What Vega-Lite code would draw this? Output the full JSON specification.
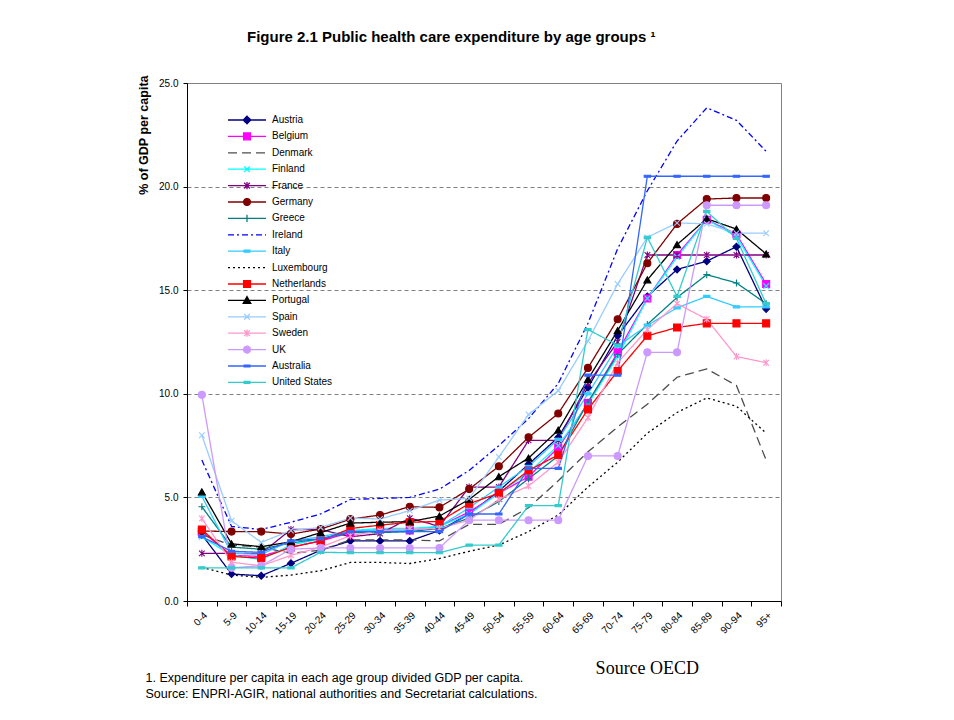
{
"$schema": "https://vega.github.io/schema/vega-lite/v6.json",
"width": 594, "height": 518,
"autosize": {"type": "none"},
"padding": {"left": 187, "top": 83, "right": 173, "bottom": 119},
"background": "white",
"title": {"text": "Figure 2.1 Public health care expenditure by age groups ¹", "anchor": "start", "frame": "group", "dx": 60, "offset": 30, "font": "Liberation Sans", "fontSize": 15, "fontWeight": "bold", "color": "black"},
"config": {"view": {"stroke": "#808080", "strokeWidth": 1}},
"data": {"values": [
{"country":"Austria","age":"0-4","value":3.2},{"country":"Austria","age":"5-9","value":1.3},{"country":"Austria","age":"10-14","value":1.22},{"country":"Austria","age":"15-19","value":1.82},{"country":"Austria","age":"20-24","value":2.45},{"country":"Austria","age":"25-29","value":2.9},{"country":"Austria","age":"30-34","value":2.9},{"country":"Austria","age":"35-39","value":2.9},{"country":"Austria","age":"40-44","value":3.4},{"country":"Austria","age":"45-49","value":4.2},{"country":"Austria","age":"50-54","value":5.3},{"country":"Austria","age":"55-59","value":6.6},{"country":"Austria","age":"60-64","value":7.9},{"country":"Austria","age":"65-69","value":10.3},{"country":"Austria","age":"70-74","value":12.8},{"country":"Austria","age":"75-79","value":14.7},{"country":"Austria","age":"80-84","value":16.0},{"country":"Austria","age":"85-89","value":16.4},{"country":"Austria","age":"90-94","value":17.1},{"country":"Austria","age":"95+","value":14.1},
{"country":"Belgium","age":"0-4","value":3.35},{"country":"Belgium","age":"5-9","value":2.2},{"country":"Belgium","age":"10-14","value":2.15},{"country":"Belgium","age":"15-19","value":2.6},{"country":"Belgium","age":"20-24","value":2.9},{"country":"Belgium","age":"25-29","value":3.3},{"country":"Belgium","age":"30-34","value":3.45},{"country":"Belgium","age":"35-39","value":3.4},{"country":"Belgium","age":"40-44","value":3.6},{"country":"Belgium","age":"45-49","value":4.3},{"country":"Belgium","age":"50-54","value":5.2},{"country":"Belgium","age":"55-59","value":6.0},{"country":"Belgium","age":"60-64","value":7.4},{"country":"Belgium","age":"65-69","value":9.55},{"country":"Belgium","age":"70-74","value":12.0},{"country":"Belgium","age":"75-79","value":14.6},{"country":"Belgium","age":"80-84","value":16.7},{"country":"Belgium","age":"85-89","value":18.4},{"country":"Belgium","age":"90-94","value":17.7},{"country":"Belgium","age":"95+","value":15.3},
{"country":"Denmark","age":"0-4","value":3.2},{"country":"Denmark","age":"5-9","value":2.7},{"country":"Denmark","age":"10-14","value":2.6},{"country":"Denmark","age":"15-19","value":2.3},{"country":"Denmark","age":"20-24","value":2.45},{"country":"Denmark","age":"25-29","value":2.95},{"country":"Denmark","age":"30-34","value":2.95},{"country":"Denmark","age":"35-39","value":2.95},{"country":"Denmark","age":"40-44","value":2.9},{"country":"Denmark","age":"45-49","value":3.7},{"country":"Denmark","age":"50-54","value":3.7},{"country":"Denmark","age":"55-59","value":4.5},{"country":"Denmark","age":"60-64","value":5.8},{"country":"Denmark","age":"65-69","value":7.2},{"country":"Denmark","age":"70-74","value":8.4},{"country":"Denmark","age":"75-79","value":9.5},{"country":"Denmark","age":"80-84","value":10.8},{"country":"Denmark","age":"85-89","value":11.2},{"country":"Denmark","age":"90-94","value":10.4},{"country":"Denmark","age":"95+","value":6.8},
{"country":"Finland","age":"0-4","value":3.1},{"country":"Finland","age":"5-9","value":2.2},{"country":"Finland","age":"10-14","value":2.0},{"country":"Finland","age":"15-19","value":2.7},{"country":"Finland","age":"20-24","value":3.0},{"country":"Finland","age":"25-29","value":3.4},{"country":"Finland","age":"30-34","value":3.5},{"country":"Finland","age":"35-39","value":3.5},{"country":"Finland","age":"40-44","value":3.6},{"country":"Finland","age":"45-49","value":4.2},{"country":"Finland","age":"50-54","value":5.2},{"country":"Finland","age":"55-59","value":6.2},{"country":"Finland","age":"60-64","value":7.5},{"country":"Finland","age":"65-69","value":9.5},{"country":"Finland","age":"70-74","value":11.8},{"country":"Finland","age":"75-79","value":14.6},{"country":"Finland","age":"80-84","value":16.6},{"country":"Finland","age":"85-89","value":18.4},{"country":"Finland","age":"90-94","value":17.6},{"country":"Finland","age":"95+","value":15.2},
{"country":"France","age":"0-4","value":2.3},{"country":"France","age":"5-9","value":2.3},{"country":"France","age":"10-14","value":2.3},{"country":"France","age":"15-19","value":3.45},{"country":"France","age":"20-24","value":3.45},{"country":"France","age":"25-29","value":3.1},{"country":"France","age":"30-34","value":3.25},{"country":"France","age":"35-39","value":4.0},{"country":"France","age":"40-44","value":3.6},{"country":"France","age":"45-49","value":5.5},{"country":"France","age":"50-54","value":5.5},{"country":"France","age":"55-59","value":7.75},{"country":"France","age":"60-64","value":7.75},{"country":"France","age":"65-69","value":10.5},{"country":"France","age":"70-74","value":12.5},{"country":"France","age":"75-79","value":16.7},{"country":"France","age":"80-84","value":16.7},{"country":"France","age":"85-89","value":16.7},{"country":"France","age":"90-94","value":16.7},{"country":"France","age":"95+","value":16.7},
{"country":"Germany","age":"0-4","value":3.38},{"country":"Germany","age":"5-9","value":3.35},{"country":"Germany","age":"10-14","value":3.35},{"country":"Germany","age":"15-19","value":3.23},{"country":"Germany","age":"20-24","value":3.47},{"country":"Germany","age":"25-29","value":3.95},{"country":"Germany","age":"30-34","value":4.15},{"country":"Germany","age":"35-39","value":4.55},{"country":"Germany","age":"40-44","value":4.52},{"country":"Germany","age":"45-49","value":5.4},{"country":"Germany","age":"50-54","value":6.5},{"country":"Germany","age":"55-59","value":7.9},{"country":"Germany","age":"60-64","value":9.05},{"country":"Germany","age":"65-69","value":11.25},{"country":"Germany","age":"70-74","value":13.6},{"country":"Germany","age":"75-79","value":16.3},{"country":"Germany","age":"80-84","value":18.2},{"country":"Germany","age":"85-89","value":19.4},{"country":"Germany","age":"90-94","value":19.45},{"country":"Germany","age":"95+","value":19.45},
{"country":"Greece","age":"0-4","value":4.55},{"country":"Greece","age":"5-9","value":2.6},{"country":"Greece","age":"10-14","value":2.5},{"country":"Greece","age":"15-19","value":2.8},{"country":"Greece","age":"20-24","value":3.0},{"country":"Greece","age":"25-29","value":3.3},{"country":"Greece","age":"30-34","value":3.3},{"country":"Greece","age":"35-39","value":3.35},{"country":"Greece","age":"40-44","value":3.5},{"country":"Greece","age":"45-49","value":4.0},{"country":"Greece","age":"50-54","value":4.8},{"country":"Greece","age":"55-59","value":5.9},{"country":"Greece","age":"60-64","value":7.0},{"country":"Greece","age":"65-69","value":9.6},{"country":"Greece","age":"70-74","value":11.9},{"country":"Greece","age":"75-79","value":13.35},{"country":"Greece","age":"80-84","value":14.65},{"country":"Greece","age":"85-89","value":15.75},{"country":"Greece","age":"90-94","value":15.35},{"country":"Greece","age":"95+","value":14.35},
{"country":"Ireland","age":"0-4","value":6.8},{"country":"Ireland","age":"5-9","value":3.6},{"country":"Ireland","age":"10-14","value":3.45},{"country":"Ireland","age":"15-19","value":3.8},{"country":"Ireland","age":"20-24","value":4.2},{"country":"Ireland","age":"25-29","value":4.9},{"country":"Ireland","age":"30-34","value":4.95},{"country":"Ireland","age":"35-39","value":5.0},{"country":"Ireland","age":"40-44","value":5.4},{"country":"Ireland","age":"45-49","value":6.3},{"country":"Ireland","age":"50-54","value":7.5},{"country":"Ireland","age":"55-59","value":8.8},{"country":"Ireland","age":"60-64","value":10.5},{"country":"Ireland","age":"65-69","value":13.4},{"country":"Ireland","age":"70-74","value":17.0},{"country":"Ireland","age":"75-79","value":19.8},{"country":"Ireland","age":"80-84","value":22.2},{"country":"Ireland","age":"85-89","value":23.8},{"country":"Ireland","age":"90-94","value":23.2},{"country":"Ireland","age":"95+","value":21.7},
{"country":"Italy","age":"0-4","value":5.05},{"country":"Italy","age":"5-9","value":2.3},{"country":"Italy","age":"10-14","value":2.25},{"country":"Italy","age":"15-19","value":2.9},{"country":"Italy","age":"20-24","value":3.1},{"country":"Italy","age":"25-29","value":3.4},{"country":"Italy","age":"30-34","value":3.4},{"country":"Italy","age":"35-39","value":3.4},{"country":"Italy","age":"40-44","value":3.6},{"country":"Italy","age":"45-49","value":4.5},{"country":"Italy","age":"50-54","value":5.5},{"country":"Italy","age":"55-59","value":6.5},{"country":"Italy","age":"60-64","value":7.8},{"country":"Italy","age":"65-69","value":10.0},{"country":"Italy","age":"70-74","value":12.3},{"country":"Italy","age":"75-79","value":13.3},{"country":"Italy","age":"80-84","value":14.15},{"country":"Italy","age":"85-89","value":14.7},{"country":"Italy","age":"90-94","value":14.2},{"country":"Italy","age":"95+","value":14.2},
{"country":"Luxembourg","age":"0-4","value":1.62},{"country":"Luxembourg","age":"5-9","value":1.25},{"country":"Luxembourg","age":"10-14","value":1.14},{"country":"Luxembourg","age":"15-19","value":1.25},{"country":"Luxembourg","age":"20-24","value":1.46},{"country":"Luxembourg","age":"25-29","value":1.86},{"country":"Luxembourg","age":"30-34","value":1.86},{"country":"Luxembourg","age":"35-39","value":1.81},{"country":"Luxembourg","age":"40-44","value":2.05},{"country":"Luxembourg","age":"45-49","value":2.4},{"country":"Luxembourg","age":"50-54","value":2.7},{"country":"Luxembourg","age":"55-59","value":3.35},{"country":"Luxembourg","age":"60-64","value":4.15},{"country":"Luxembourg","age":"65-69","value":5.5},{"country":"Luxembourg","age":"70-74","value":6.7},{"country":"Luxembourg","age":"75-79","value":8.1},{"country":"Luxembourg","age":"80-84","value":9.1},{"country":"Luxembourg","age":"85-89","value":9.8},{"country":"Luxembourg","age":"90-94","value":9.4},{"country":"Luxembourg","age":"95+","value":8.1},
{"country":"Netherlands","age":"0-4","value":3.45},{"country":"Netherlands","age":"5-9","value":2.15},{"country":"Netherlands","age":"10-14","value":2.07},{"country":"Netherlands","age":"15-19","value":2.59},{"country":"Netherlands","age":"20-24","value":2.9},{"country":"Netherlands","age":"25-29","value":3.5},{"country":"Netherlands","age":"30-34","value":3.66},{"country":"Netherlands","age":"35-39","value":3.8},{"country":"Netherlands","age":"40-44","value":3.84},{"country":"Netherlands","age":"45-49","value":4.7},{"country":"Netherlands","age":"50-54","value":5.2},{"country":"Netherlands","age":"55-59","value":6.3},{"country":"Netherlands","age":"60-64","value":7.05},{"country":"Netherlands","age":"65-69","value":9.25},{"country":"Netherlands","age":"70-74","value":11.1},{"country":"Netherlands","age":"75-79","value":12.8},{"country":"Netherlands","age":"80-84","value":13.2},{"country":"Netherlands","age":"85-89","value":13.4},{"country":"Netherlands","age":"90-94","value":13.4},{"country":"Netherlands","age":"95+","value":13.4},
{"country":"Portugal","age":"0-4","value":5.27},{"country":"Portugal","age":"5-9","value":2.76},{"country":"Portugal","age":"10-14","value":2.62},{"country":"Portugal","age":"15-19","value":2.86},{"country":"Portugal","age":"20-24","value":3.3},{"country":"Portugal","age":"25-29","value":3.76},{"country":"Portugal","age":"30-34","value":3.8},{"country":"Portugal","age":"35-39","value":3.83},{"country":"Portugal","age":"40-44","value":4.1},{"country":"Portugal","age":"45-49","value":4.9},{"country":"Portugal","age":"50-54","value":6.0},{"country":"Portugal","age":"55-59","value":6.9},{"country":"Portugal","age":"60-64","value":8.25},{"country":"Portugal","age":"65-69","value":10.7},{"country":"Portugal","age":"70-74","value":13.05},{"country":"Portugal","age":"75-79","value":15.5},{"country":"Portugal","age":"80-84","value":17.2},{"country":"Portugal","age":"85-89","value":18.45},{"country":"Portugal","age":"90-94","value":17.95},{"country":"Portugal","age":"95+","value":16.75},
{"country":"Spain","age":"0-4","value":8.0},{"country":"Spain","age":"5-9","value":3.87},{"country":"Spain","age":"10-14","value":2.83},{"country":"Spain","age":"15-19","value":3.4},{"country":"Spain","age":"20-24","value":3.55},{"country":"Spain","age":"25-29","value":4.0},{"country":"Spain","age":"30-34","value":3.96},{"country":"Spain","age":"35-39","value":4.36},{"country":"Spain","age":"40-44","value":4.87},{"country":"Spain","age":"45-49","value":4.95},{"country":"Spain","age":"50-54","value":6.95},{"country":"Spain","age":"55-59","value":9.0},{"country":"Spain","age":"60-64","value":10.15},{"country":"Spain","age":"65-69","value":12.55},{"country":"Spain","age":"70-74","value":15.3},{"country":"Spain","age":"75-79","value":17.55},{"country":"Spain","age":"80-84","value":18.25},{"country":"Spain","age":"85-89","value":18.2},{"country":"Spain","age":"90-94","value":17.75},{"country":"Spain","age":"95+","value":17.75},
{"country":"Sweden","age":"0-4","value":3.98},{"country":"Sweden","age":"5-9","value":1.87},{"country":"Sweden","age":"10-14","value":1.7},{"country":"Sweden","age":"15-19","value":2.2},{"country":"Sweden","age":"20-24","value":2.6},{"country":"Sweden","age":"25-29","value":3.15},{"country":"Sweden","age":"30-34","value":3.4},{"country":"Sweden","age":"35-39","value":3.47},{"country":"Sweden","age":"40-44","value":3.5},{"country":"Sweden","age":"45-49","value":3.9},{"country":"Sweden","age":"50-54","value":4.9},{"country":"Sweden","age":"55-59","value":5.55},{"country":"Sweden","age":"60-64","value":6.7},{"country":"Sweden","age":"65-69","value":8.85},{"country":"Sweden","age":"70-74","value":11.5},{"country":"Sweden","age":"75-79","value":13.1},{"country":"Sweden","age":"80-84","value":14.35},{"country":"Sweden","age":"85-89","value":13.6},{"country":"Sweden","age":"90-94","value":11.8},{"country":"Sweden","age":"95+","value":11.5},
{"country":"UK","age":"0-4","value":9.95},{"country":"UK","age":"5-9","value":1.6},{"country":"UK","age":"10-14","value":1.7},{"country":"UK","age":"15-19","value":2.5},{"country":"UK","age":"20-24","value":2.56},{"country":"UK","age":"25-29","value":2.56},{"country":"UK","age":"30-34","value":2.56},{"country":"UK","age":"35-39","value":2.56},{"country":"UK","age":"40-44","value":2.56},{"country":"UK","age":"45-49","value":3.9},{"country":"UK","age":"50-54","value":3.9},{"country":"UK","age":"55-59","value":3.9},{"country":"UK","age":"60-64","value":3.9},{"country":"UK","age":"65-69","value":7.0},{"country":"UK","age":"70-74","value":7.0},{"country":"UK","age":"75-79","value":12.0},{"country":"UK","age":"80-84","value":12.0},{"country":"UK","age":"85-89","value":19.1},{"country":"UK","age":"90-94","value":19.1},{"country":"UK","age":"95+","value":19.1},
{"country":"Australia","age":"0-4","value":3.1},{"country":"Australia","age":"5-9","value":2.4},{"country":"Australia","age":"10-14","value":2.35},{"country":"Australia","age":"15-19","value":2.9},{"country":"Australia","age":"20-24","value":3.0},{"country":"Australia","age":"25-29","value":3.35},{"country":"Australia","age":"30-34","value":3.35},{"country":"Australia","age":"35-39","value":3.35},{"country":"Australia","age":"40-44","value":3.35},{"country":"Australia","age":"45-49","value":4.2},{"country":"Australia","age":"50-54","value":4.2},{"country":"Australia","age":"55-59","value":6.4},{"country":"Australia","age":"60-64","value":6.4},{"country":"Australia","age":"65-69","value":10.9},{"country":"Australia","age":"70-74","value":10.9},{"country":"Australia","age":"75-79","value":20.5},{"country":"Australia","age":"80-84","value":20.5},{"country":"Australia","age":"85-89","value":20.5},{"country":"Australia","age":"90-94","value":20.5},{"country":"Australia","age":"95+","value":20.5},
{"country":"United States","age":"0-4","value":1.6},{"country":"United States","age":"5-9","value":1.6},{"country":"United States","age":"10-14","value":1.6},{"country":"United States","age":"15-19","value":1.6},{"country":"United States","age":"20-24","value":2.35},{"country":"United States","age":"25-29","value":2.33},{"country":"United States","age":"30-34","value":2.33},{"country":"United States","age":"35-39","value":2.33},{"country":"United States","age":"40-44","value":2.33},{"country":"United States","age":"45-49","value":2.7},{"country":"United States","age":"50-54","value":2.7},{"country":"United States","age":"55-59","value":4.6},{"country":"United States","age":"60-64","value":4.6},{"country":"United States","age":"65-69","value":13.1},{"country":"United States","age":"70-74","value":12.35},{"country":"United States","age":"75-79","value":17.55},{"country":"United States","age":"80-84","value":14.7},{"country":"United States","age":"85-89","value":18.8},{"country":"United States","age":"90-94","value":17.5},{"country":"United States","age":"95+","value":14.35}
]},
"encoding": {
  "x": {"field": "age", "type": "ordinal", "bandPosition": 0.5,
    "sort": ["0-4","5-9","10-14","15-19","20-24","25-29","30-34","35-39","40-44","45-49","50-54","55-59","60-64","65-69","70-74","75-79","80-84","85-89","90-94","95+"],
    "scale": {"type": "band", "paddingInner": 0, "paddingOuter": 0},
    "axis": {"tickBand": "extent", "labelAngle": -45, "labelFont": "Liberation Sans", "labelFontSize": 10, "labelColor": "black", "labelPadding": 4, "domainColor": "black", "tickColor": "black", "tickSize": 5, "grid": false,
      "title": ["1. Expenditure per capita in each age group divided GDP per capita.", "Source: ENPRI-AGIR, national authorities and Secretariat calculations."],
      "titleFont": "Liberation Sans", "titleFontSize": 12.5, "titleFontWeight": "normal", "titleColor": "black", "titleAlign": "left", "titleAnchor": "start", "titleX": -42, "titleY": 80, "titleBaseline": "alphabetic", "titleLineHeight": 16}},
  "y": {"field": "value", "type": "quantitative", "scale": {"domain": [0, 25], "nice": false},
    "axis": {"values": [0, 5, 10, 15, 20, 25], "format": ".1f", "labelFont": "Liberation Sans", "labelFontSize": 10, "labelColor": "black", "labelPadding": 5, "domainColor": "black", "tickColor": "black", "tickSize": 4,
      "grid": true, "gridColor": "#808080", "gridDash": [4, 3], "gridWidth": 1,
      "title": "% of GDP per capita", "titleFont": "Liberation Sans", "titleFontSize": 12.5, "titleFontWeight": "bold", "titleColor": "black", "titleAngle": -90, "titleAlign": "right", "titleBaseline": "middle", "titleX": -44, "titleY": -8}}
},
"layer": [
  {"mark": {"type": "line", "strokeWidth": 1.3},
   "encoding": {
     "color": {"field": "country", "type": "nominal",
       "scale": {"domain": ["Austria","Belgium","Denmark","Finland","France","Germany","Greece","Ireland","Italy","Luxembourg","Netherlands","Portugal","Spain","Sweden","UK","Australia","United States"],
                 "range": ["#000080","#FF00FF","#4D4D4D","#00FFFF","#800080","#800000","#008080","#0000FF","#33CCFF","#000000","#FF0000","#000000","#99CCFF","#FF99CC","#CC99FF","#3366FF","#33CCCC"]},
       "legend": {"title": null, "orient": "none", "legendX": 40, "legendY": 31, "labelFont": "Liberation Sans", "labelFontSize": 10, "labelColor": "black", "symbolSize": 1444, "symbolStrokeWidth": 1.3, "labelOffset": 5, "rowPadding": 4.4, "clipHeight": 12, "labelLimit": 200,
         "encode": {"symbols": {"update": {
           "shape": {"signal": "datum.value==='Austria'?'M-1,0H1M0,-0.2L0.2,0L0,0.2L-0.2,0Z':(datum.value==='Belgium'||datum.value==='Netherlands')?'M-1,0H1M-0.18,-0.18H0.18V0.18H-0.18Z':(datum.value==='Finland'||datum.value==='Spain')?'M-1,0H1M-0.15,-0.15L0.15,0.15M-0.15,0.15L0.15,-0.15':(datum.value==='France'||datum.value==='Sweden')?'M-1,0H1M-0.15,-0.15L0.15,0.15M-0.15,0.15L0.15,-0.15M0,-0.19V0.19':(datum.value==='Germany'||datum.value==='UK')?'M-1,0H1M0.18,0A0.18,0.18,0,1,1,-0.18,0A0.18,0.18,0,1,1,0.18,0Z':datum.value==='Greece'?'M-1,0H1M0,-0.19V0.19':datum.value==='Portugal'?'M-1,0H1M0,-0.2L0.2,0.16L-0.2,0.16Z':(datum.value==='Italy'||datum.value==='Australia'||datum.value==='United States')?'M-1,0H1M-0.15,-0.05H0.15V0.05H-0.15Z':'M-1,0H1'"},
           "fill": {"scale": "color", "field": "value"},
           "stroke": {"scale": "color", "field": "value"},
           "strokeDash": {"scale": "strokeDash", "field": "value"},
           "opacity": {"value": 1}}}}}},
     "strokeDash": {"field": "country", "type": "nominal", "legend": null,
       "scale": {"domain": ["Austria","Belgium","Denmark","Finland","France","Germany","Greece","Ireland","Italy","Luxembourg","Netherlands","Portugal","Spain","Sweden","UK","Australia","United States"],
                 "range": [[1,0],[1,0],[9,5],[1,0],[1,0],[1,0],[1,0],[6,3,2,3],[1,0],[2,3],[1,0],[1,0],[1,0],[1,0],[1,0],[1,0],[1,0]]}}
   }},
  {"transform": [{"filter": {"field": "country", "oneOf": ["Austria","Belgium","Finland","France","Germany","Greece","Italy","Netherlands","Portugal","Spain","Sweden","UK","Australia","United States"]}}],
   "mark": {"type": "point", "filled": true, "size": 49, "strokeWidth": 1.1, "opacity": 1},
   "encoding": {
     "color": {"field": "country", "type": "nominal", "legend": null},
     "stroke": {"field": "country", "type": "nominal", "legend": null,
       "scale": {"domain": ["Austria","Belgium","Denmark","Finland","France","Germany","Greece","Ireland","Italy","Luxembourg","Netherlands","Portugal","Spain","Sweden","UK","Australia","United States"],
                 "range": ["#000080","#FF00FF","#4D4D4D","#00FFFF","#800080","#800000","#008080","#0000FF","#33CCFF","#000000","#FF0000","#000000","#99CCFF","#FF99CC","#CC99FF","#3366FF","#33CCCC"]}},
     "shape": {"field": "country", "type": "nominal", "legend": null,
       "scale": {"domain": ["Austria","Belgium","Finland","France","Germany","Greece","Italy","Netherlands","Portugal","Spain","Sweden","UK","Australia","United States"],
                 "range": ["diamond","square","M-0.8,-0.8L0.8,0.8M-0.8,0.8L0.8,-0.8","M-0.8,-0.8L0.8,0.8M-0.8,0.8L0.8,-0.8M0,-1V1","circle","M-1,0H1M0,-1V1","M-0.9,-0.3H0.9V0.3H-0.9Z","square","triangle-up","M-0.8,-0.8L0.8,0.8M-0.8,0.8L0.8,-0.8","M-0.8,-0.8L0.8,0.8M-0.8,0.8L0.8,-0.8M0,-1V1","circle","M-0.9,-0.3H0.9V0.3H-0.9Z","M-0.9,-0.3H0.9V0.3H-0.9Z"]}}
   }},
  {"transform": [{"filter": "datum.country === 'Austria' && datum.age === '75-79'"}],
   "mark": {"type": "text", "text": "Source OECD", "font": "Liberation Serif", "fontSize": 18, "color": "black", "align": "center", "baseline": "middle", "clip": false},
   "encoding": {"y": {"datum": -3.3, "type": "quantitative"}}}
]
}
